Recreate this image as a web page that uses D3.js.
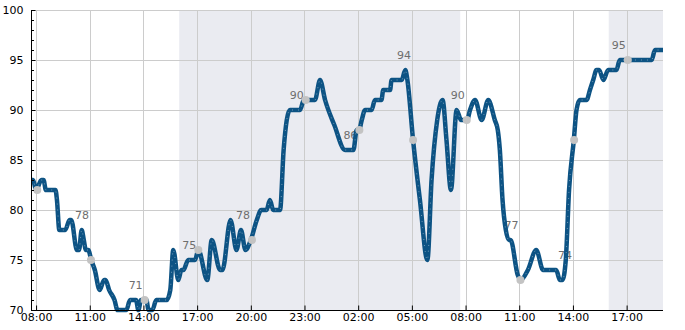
<!DOCTYPE html>
<html><head><meta charset="utf-8">
<script src="https://cdn.jsdelivr.net/npm/d3@7"></script>
<style>body{margin:0;background:#fff}svg{display:block}</style>
</head><body><svg id="c" width="685" height="330"></svg>
<script>
const times = ["01 07:43","01 07:50","01 08:00","01 08:18","01 08:25","01 08:33","01 09:05","01 09:10","01 09:18","01 09:38","01 09:52","01 09:58","01 10:17","01 10:24","01 10:33","01 10:40","01 10:47","01 10:55","01 11:05","01 11:17","01 11:33","01 11:48","01 11:53","01 12:05","01 12:23","01 12:33","01 13:03","01 13:15","01 13:35","01 13:43","01 13:52","01 14:10","01 14:17","01 14:30","01 14:43","01 15:18","01 15:30","01 15:40","01 15:57","01 16:07","01 16:14","01 16:30","01 16:53","01 17:04","01 17:34","01 17:49","01 18:17","01 18:25","01 18:52","01 19:12","01 19:27","01 19:42","01 20:00","01 20:20","01 20:35","01 20:53","01 21:04","01 21:15","01 21:38","01 21:50","01 22:11","01 22:45","01 22:58","01 23:35","01 23:52","02 00:09","02 00:40","02 01:16","02 01:44","02 01:55","02 02:03","02 02:12","02 02:23","02 02:45","02 02:56","02 03:18","02 03:24","02 03:47","02 03:52","02 04:26","02 04:38","02 04:45","02 05:04","02 05:27","02 05:52","02 06:06","02 06:25","02 06:43","02 06:56","02 07:11","02 07:30","02 07:45","02 08:05","02 08:15","02 08:32","02 08:54","02 09:16","02 09:38","02 09:48","02 09:55","02 10:04","02 10:15","02 10:25","02 10:31","02 10:55","02 11:05","02 11:29","02 11:57","02 12:20","02 13:04","02 13:16","02 13:25","02 13:36","02 13:47","02 14:03","02 14:12","02 14:23","02 14:46","02 14:57","02 15:08","02 15:19","02 15:28","02 15:42","02 15:58","02 16:26","02 16:37","02 18:24","02 18:35","02 19:02"];
const values = [83,83,82,83,83,82,82,81,78,78,79,79,76,76,78,77,76,76,75,74,72,73,73,72,71,70,70,71,71,70,71,71,70,70,71,71,72,76,73,74,74,75,75,76,73,77,74,74,79,76,78,76,77,79,80,80,81,80,80,86,90,90,91,91,93,91,88.5,86,86,88,88,89,90,90,91,91,92,92,93,93,94,93,87,81,75,83,89,91,87,82,90,89,89,90,91,89,91,89,88,86,81,78,77,77,73.5,73,74,76,74,74,73,73,75,82,87,90,91,91,92,93,94,94,93,94,94,95,95,96,96];

const markTimes = ["01 08:04","01 11:04","01 14:04","01 17:04","01 20:04","01 23:04","02 02:04","02 05:04","02 08:04","02 11:04","02 14:04","02 17:04"];
const markValues = [82,75,71,76,77,91,88,87,89,73,87,95];
const markLabels = [null,"78","71","75","78","90","86","94","90","77","74","95"];
const markLabelValues = [null,78,71,75,78,90,86,94,90,77,74,95];

const nightStart = ["01 16:00","02 16:00"];
const nightEnd = ["02 07:42","02 19:02"];

const domainTimes = ["01 07:43","02 19:02"];
const xTickTimes = ["01 08:00","01 11:00","01 14:00","01 17:00","01 20:00","01 23:00","02 02:00","02 05:00","02 08:00","02 11:00","02 14:00","02 17:00"];
const yTicks = [70,75,80,85,90,95,100];
const yDomain = [70,100];

const parse = d3.timeParse("%d %H:%M");
const W=685,H=330, m={l:31,r:22,t:10,b:20};
const svg=d3.select("#c");
const x=d3.scaleTime().domain(domainTimes.map(parse)).range([m.l,W-m.r]);
const y=d3.scaleLinear().domain(yDomain).range([H-m.b,m.t]);
const font="DejaVu Sans";

// night shading
svg.append("g").selectAll("rect").data(nightStart.map((s,i)=>[parse(s),parse(nightEnd[i])])).join("rect")
  .attr("x",d=>x(d[0])).attr("width",d=>x(d[1])-x(d[0]))
  .attr("y",m.t).attr("height",H-m.b-m.t).attr("fill","#eaebf1");

// grid
const xt = xTickTimes.map(parse);
svg.append("g").selectAll("line").data(xt).join("line")
  .attr("x1",d=>Math.round(x(d))+0.5).attr("x2",d=>Math.round(x(d))+0.5)
  .attr("y1",m.t).attr("y2",H-m.b).attr("stroke","#cccccc").attr("stroke-width",1);
svg.append("g").selectAll("line").data(yTicks).join("line")
  .attr("y1",d=>Math.round(y(d))+0.5).attr("y2",d=>Math.round(y(d))+0.5)
  .attr("x1",m.l).attr("x2",W-m.r).attr("stroke","#cccccc").attr("stroke-width",1);

// labels (behind line)
const marks = markTimes.map((t,i)=>({t:parse(t),v:markValues[i],lab:markLabels[i],lv:markLabelValues[i]}));
svg.append("g").selectAll("text").data(marks.filter(d=>d.lab)).join("text")
  .attr("x",d=>x(d.t)-2).attr("y",d=>y(d.lv)-11)
  .attr("text-anchor","end").attr("font-family",font).attr("font-size",11)
  .attr("fill","#6e6e6e").text(d=>d.lab);

// line
const data = times.map((t,i)=>({t:parse(t),v:values[i]}));
const line=d3.line().x(d=>x(d.t)).y(d=>y(d.v)).curve(d3.curveMonotoneX);
svg.append("path").datum(data).attr("d",line).attr("fill","none")
  .attr("stroke","#0d5384").attr("stroke-width",4.5).attr("stroke-linejoin","round");
svg.append("path").datum(data).attr("d",line).attr("fill","none")
  .attr("stroke","#ffffff").attr("stroke-opacity",0.5).attr("stroke-width",0.8).attr("stroke-dasharray","1,5");

// dots
svg.append("g").selectAll("circle").data(marks).join("circle")
  .attr("cx",d=>x(d.t)).attr("cy",d=>y(d.v)).attr("r",4).attr("fill","#c3c3c3");

// axes
const yAxis = d3.axisLeft(y).tickValues(yTicks).tickSize(-4).tickPadding(8).tickFormat(d3.format("d"));
const gy = svg.append("g").attr("transform",`translate(${m.l+0.5},0)`).call(yAxis);
gy.select(".domain").attr("d",`M0,${m.t}V${H-m.b}`).attr("stroke","#000");
gy.selectAll("text").attr("font-family",font).attr("font-size",11).attr("fill","#000");
gy.selectAll(".tick line").attr("stroke","#000");
// minor y ticks
const minor = d3.range(yDomain[0],yDomain[1]+1).filter(v=>v%5!==0);
svg.append("g").selectAll("line").data(minor).join("line")
  .attr("x1",m.l).attr("x2",m.l+3).attr("y1",d=>Math.round(y(d))+0.5).attr("y2",d=>Math.round(y(d))+0.5)
  .attr("stroke","#000");

const xAxis = d3.axisBottom(x).tickValues(xt).tickSize(-5).tickPadding(3).tickFormat(d3.timeFormat("%H:%M"));
const gx = svg.append("g").attr("transform",`translate(0,${H-m.b+0.5})`).call(xAxis);
gx.select(".domain").attr("d",`M${m.l},0H${W-m.r}`).attr("stroke","#000");
gx.selectAll(".tick line").attr("stroke","#000");
gx.selectAll("text").attr("font-family",font).attr("font-size",11).attr("fill","#000");
</script></body></html>
